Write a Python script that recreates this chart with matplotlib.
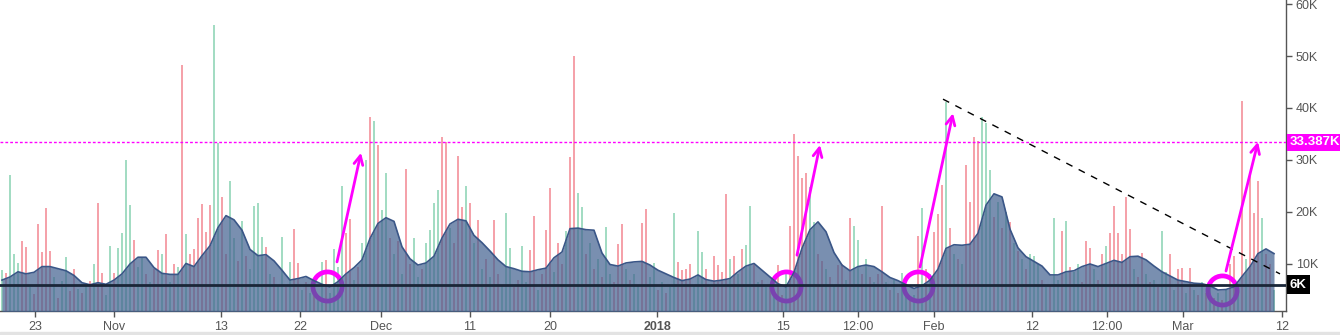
import matplotlib.pyplot as plt
import matplotlib.patches as mpatches
import matplotlib.ticker as mticker
import numpy as np

plt.rcParams['font.family'] = ['Liberation Sans', 'DejaVu Sans']

# volume per bar, in thousands
volume = [
    8.8, 8.3, 27.1, 11.9, 10.2, 14.4, 13.3, 5.5, 4.2, 17.7, 12.3, 20.8, 12.5, 7.5, 3.5, 6.8, 11.4, 4.8, 9.0, 5.2,
    4.5, 5.8, 6.7, 10.0, 21.7, 8.3, 4.0, 13.5, 8.3, 13.1, 16.0, 30.0, 21.3, 14.6, 9.5, 11.4, 8.0, 6.5, 9.0, 12.7,
    12.0, 15.8, 6.5, 10.0, 9.5, 48.3, 15.8, 12.0, 12.9, 18.8, 21.5, 16.2, 21.3, 56.0, 33.3, 22.9, 12.0, 26.0, 15.0, 10.5,
    18.3, 11.5, 9.0, 21.2, 21.7, 15.2, 13.3, 8.0, 7.5, 6.0, 15.2, 5.5, 10.4, 16.7, 10.2, 5.0, 6.5, 4.5, 7.0, 3.8,
    10.4, 10.8, 4.5, 12.9, 9.5, 25.0, 16.0, 18.7, 7.0, 9.5, 14.0, 30.0, 38.3, 37.5, 32.9, 20.4, 27.5, 15.0, 12.0, 14.5,
    8.0, 28.3, 10.0, 15.0, 7.5, 9.0, 14.0, 16.5, 21.7, 24.2, 34.4, 33.5, 17.0, 14.0, 30.8, 21.0, 25.0, 21.7, 14.0, 18.5,
    9.0, 11.0, 7.5, 18.5, 8.0, 6.0, 19.8, 13.0, 5.5, 7.0, 13.5, 6.5, 12.7, 19.2, 5.0, 8.0, 16.5, 24.6, 8.5, 14.0,
    10.0, 16.3, 30.6, 50.0, 23.6, 21.0, 12.0, 14.0, 9.0, 11.0, 7.5, 17.1, 8.0, 6.5, 13.8, 17.7, 9.0, 7.0, 8.0, 6.0,
    17.9, 20.6, 7.5, 10.2, 5.0, 6.5, 4.5, 5.5, 19.8, 10.4, 8.8, 9.0, 10.0, 6.0, 16.3, 12.4, 9.0, 5.5, 11.5, 9.8,
    8.5, 23.5, 11.0, 11.5, 8.0, 12.9, 13.7, 21.2, 10.0, 6.5, 7.0, 5.5, 6.0, 4.5, 9.8, 4.0, 8.5, 17.3, 35.0, 30.8,
    26.5, 27.5, 24.8, 18.0, 12.0, 10.5, 9.0, 7.5, 6.0, 9.8, 10.0, 7.0, 18.8, 17.3, 14.6, 8.0, 11.0, 7.5, 6.5, 8.0,
    21.2, 6.5, 5.0, 7.0, 4.5, 8.3, 5.0, 3.5, 4.0, 15.4, 20.8, 9.0, 8.0, 16.2, 19.6, 25.2, 41.2, 17.0, 12.0, 11.0,
    10.0, 29.0, 22.0, 34.4, 33.7, 38.3, 37.1, 28.0, 19.0, 22.0, 17.0, 20.0, 18.0, 14.0, 12.5, 11.0, 9.0, 12.0, 11.5, 10.0,
    7.0, 5.5, 6.0, 18.8, 7.0, 16.3, 18.3, 9.5, 8.5, 10.0, 6.5, 14.4, 13.0, 9.0, 7.0, 12.0, 13.5, 16.0, 21.2, 16.0,
    12.0, 22.9, 16.7, 9.0, 7.5, 12.2, 8.0, 6.5, 7.0, 5.5, 16.3, 8.5, 12.0, 5.0, 9.0, 9.3, 4.5, 9.3, 5.0, 4.0,
    6.5, 4.5, 5.5, 3.5, 4.5, 3.0, 5.0, 10.0, 11.5, 6.0, 41.3, 11.0, 27.0, 19.8, 26.0, 18.8, 12.0, 10.0, 5.0,
]
# g = up bar, r = down bar
side = (
    "grgggrrgrrrrrgrggrrg" "rgrgrrggrggggrggrgrr" "grgrgrgrrrrrrggrrggr" "grggggrgrggrgrrgrgrg"
    "grggggrrgrggrgrggrgr" "grrggrggggrrgrrrgrgr" "grgrrgggrrggrrgrrrgr" "rgrrggrgrgrggrrrgrgg"
    "rrggrgrggrrrrgggrgrr" "rrgrgrggrgrgrgrrgrrr" "rrggrrgrgrrgrggrgrgr" "rgrgrggrgrgrgrrrgrgr"
    "grrrrgggrgrgrgrgrggg" "rgrggrgrggrrrgrrgrrr" "rrrgrrgrgrggrgrrgrgr" "grgrgrgrrgrgrrrgrrg"
)
# moving average of volume, one value every 2 bars
vol_ma = [
    6.9, 7.5, 8.5, 8.1, 8.4, 9.5, 9.5, 9.1, 8.7, 7.8,
    6.4, 6.0, 6.4, 6.1, 6.9, 8.1, 10.0, 11.3, 11.3, 9.3,
    8.2, 8.0, 8.0, 10.1, 9.5, 11.6, 13.5, 17.0, 19.3, 18.5,
    16.5, 12.8, 11.6, 11.8, 10.6, 8.8, 6.9, 7.2, 7.6, 6.8,
    6.1, 5.6, 6.6, 8.1, 9.3, 10.8, 14.9, 17.8, 18.9, 18.2,
    13.3, 11.0, 9.8, 10.2, 11.5, 15.0, 17.7, 18.6, 18.3, 15.5,
    14.1, 12.5, 10.8, 9.5, 9.1, 8.6, 8.5, 8.9, 9.2, 11.2,
    12.3, 16.8, 16.9, 16.6, 16.5, 12.1, 9.9, 9.6, 10.2, 10.4,
    10.5, 9.8, 8.8, 8.1, 7.4, 6.8, 7.1, 7.9, 7.0, 6.7,
    6.9, 7.2, 8.5, 9.6, 10.1, 8.8, 7.5, 6.2, 5.6, 8.4,
    13.0, 16.6, 18.1, 16.2, 12.2, 9.8, 8.7, 9.5, 9.8, 9.5,
    8.5, 7.4, 6.8, 6.0, 5.3, 5.8, 6.9, 9.0, 13.0, 13.7,
    13.6, 13.8, 15.9, 21.3, 23.5, 22.9, 16.7, 13.1, 11.4, 10.5,
    9.6, 7.9, 7.9, 8.5, 8.7, 9.5, 10.0, 9.5, 10.1, 10.7,
    10.3, 11.4, 11.5, 10.8, 9.6, 8.5, 7.7, 6.9, 6.6, 6.3,
    6.2, 5.8, 5.0, 5.1, 5.6, 7.6, 9.5, 12.0, 12.9, 12.0,
]

tick_pos = [8.25, 28, 54.75, 74.5, 94.75, 117, 137, 163.75, 195.25, 214, 233, 257.5, 276.25, 295.25, 320]
tick_labels = ["23", "Nov", "13", "22", "Dec", "11", "20", "2018", "15", "12:00", "Feb", "12", "12:00", "Mar", "12"]

level_hi = 33.387
level_lo = 6.0
circle_x = [81.25, 196, 229, 305]
circle_y = [5.77, 5.77, 5.77, 5.0]
arrow_from = [(83.75, 10.4), (198.75, 11.7), (229.5, 9.4), (306, 8.65)]
arrow_to = [(89.75, 31.4), (204.5, 32.9), (237.75, 39.0), (314, 33.5)]
trend_x = [235.25, 319.5]
trend_y = [41.7, 8.1]

fig = plt.figure(figsize=(13.4, 3.35), dpi=100)
ax = fig.add_axes([0, 1 - 311 / 335, 1286 / 1340, 311 / 335])

x = np.arange(len(volume))
colors = ['#a3dcc3' if s == 'g' else '#f5a2aa' for s in side]
ax.bar(x, volume, width=0.55, color=colors, zorder=2)

# circles sit under the area so their lower half gets tinted
ax.plot(circle_x, circle_y, 'o', ms=21, mfc='none', mec='#ff00ff', mew=3.4, zorder=2.5)

ma_x = np.arange(len(vol_ma)) * 2
ax.fill_between(ma_x, 0, vol_ma, color='#41608f', alpha=0.7, lw=0, zorder=3)
ax.plot(ma_x, vol_ma, color='#3a5687', lw=1.2, zorder=3.2)

ax.axhline(level_lo, color='#1a2638', lw=2, zorder=4)
ax.axhline(level_hi, color='#ff00ff', lw=1, ls=(0, (2, 1.5)), zorder=4)
ax.plot(trend_x, trend_y, color='black', lw=1, ls=(0, (5, 5)), zorder=5)

for (x0, y0), (x1, y1) in zip(arrow_from, arrow_to):
    ax.annotate('', xy=(x1, y1), xytext=(x0, y0),
                arrowprops=dict(arrowstyle='->', color='#ff00ff', lw=2, mutation_scale=16,
                                shrinkA=0, shrinkB=0), zorder=6)

ax.set_xlim(-0.5, 321)
ax.set_ylim(0.96, 60.77)

ax.yaxis.tick_right()
ax.set_yticks([10, 20, 30, 40, 50, 60])
ax.yaxis.set_major_formatter(mticker.FuncFormatter(lambda v, p: f"{int(v)}K"))
ax.tick_params(axis='y', direction='out', length=4, width=1, colors='#555555', labelsize=9, pad=3)

ax.set_xticks(tick_pos)
ax.set_xticklabels(tick_labels)
ax.tick_params(axis='x', direction='out', length=4, width=1, colors='#555555', labelsize=9, pad=3)
for lab in ax.get_xticklabels():
    if lab.get_text() == "2018":
        lab.set_fontweight('bold')

for s in ['top', 'left']:
    ax.spines[s].set_visible(False)
for s in ['right', 'bottom']:
    ax.spines[s].set_color('#555555')
    ax.spines[s].set_linewidth(1)

ytr = ax.get_yaxis_transform()
ax.text(1.003, level_hi, f"{level_hi:.3f}K", transform=ytr, color='white', fontsize=9.5, fontweight='bold',
        va='center', ha='left', bbox=dict(boxstyle='square,pad=0.2', fc='#ff00ff', ec='none'), clip_on=False)
ax.text(1.003, level_lo, "6K", transform=ytr, color='white', fontsize=9.5, fontweight='bold',
        va='center', ha='left', bbox=dict(boxstyle='square,pad=0.25', fc='black', ec='none'), clip_on=False)

fig.patches.append(mpatches.Rectangle((0, 0), 1, 3 / 335, transform=fig.transFigure,
                                      color='#e3e3e3', zorder=0))

fig.savefig('out.png', dpi=100)
